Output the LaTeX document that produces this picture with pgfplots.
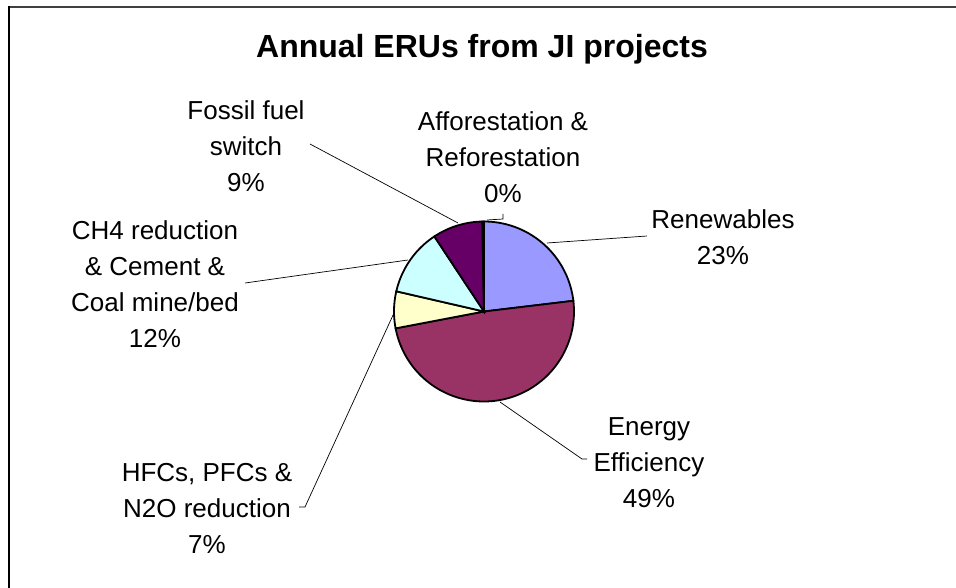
\documentclass[border=0pt]{standalone}
\usepackage{fontspec}
\setmainfont{Liberation Sans}
\usepackage{pgfplots}
\pgfplotsset{compat=1.18}
\definecolor{cRen}{HTML}{9999FF}
\definecolor{cEE}{HTML}{993366}
\definecolor{cHFC}{HTML}{FFFFCC}
\definecolor{cCH}{HTML}{CCFFFF}
\definecolor{cFos}{HTML}{660066}
\definecolor{cAff}{HTML}{FF8080}
% shares in percent
\def\vRen{23.1}
\def\vEE{48.9}
\def\vHFC{6.6}
\def\vCH{12.1}
\def\vFos{9.0}
\def\vAff{0.3}
\pgfmathsetmacro\aA{90}
\pgfmathsetmacro\aB{\aA-3.6*\vRen}
\pgfmathsetmacro\aC{\aB-3.6*\vEE}
\pgfmathsetmacro\aD{\aC-3.6*\vHFC}
\pgfmathsetmacro\aE{\aD-3.6*\vCH}
\pgfmathsetmacro\aF{\aE-3.6*\vFos}
\pgfmathsetmacro\aG{\aF-3.6*\vAff}
\begin{document}
\begin{tikzpicture}
\begin{axis}[scale only axis, width=956pt, height=588pt,
  xmin=0, xmax=956, ymin=0, ymax=588, y dir=reverse,
  hide axis, clip=false]
\addplot[fill=cRen, draw=black, line width=1.8pt, domain=\aB:\aA, samples=60, variable=\t] ({484+90*cos(t)},{311.5-90*sin(t)}) -- (axis cs:484,311.5) -- cycle;
\addplot[fill=cEE, draw=black, line width=1.8pt, domain=\aC:\aB, samples=100, variable=\t] ({484+90*cos(t)},{311.5-90*sin(t)}) -- (axis cs:484,311.5) -- cycle;
\addplot[fill=cHFC, draw=black, line width=1.8pt, domain=\aD:\aC, samples=20, variable=\t] ({484+90*cos(t)},{311.5-90*sin(t)}) -- (axis cs:484,311.5) -- cycle;
\addplot[fill=cCH, draw=black, line width=1.8pt, domain=\aE:\aD, samples=30, variable=\t] ({484+90*cos(t)},{311.5-90*sin(t)}) -- (axis cs:484,311.5) -- cycle;
\addplot[fill=cFos, draw=black, line width=1.8pt, domain=\aF:\aE, samples=30, variable=\t] ({484+90*cos(t)},{311.5-90*sin(t)}) -- (axis cs:484,311.5) -- cycle;
\addplot[fill=cAff, draw=black, line width=1.8pt, domain=\aG:\aF, samples=3, variable=\t] ({484+90*cos(t)},{311.5-90*sin(t)}) -- (axis cs:484,311.5) -- cycle;
% frame (top and left edges)
\draw[line width=2.2pt, black!75] (axis cs:8,7) -- (axis cs:956,7);
\draw[line width=1.6pt, black] (axis cs:9,6) -- (axis cs:9,588);
% title
\node[font=\fontsize{32}{38}\selectfont\bfseries] at (axis cs:482,49) {Annual ERUs from JI projects};
% leader lines
\draw[line width=0.7pt] (axis cs:647,236) -- (axis cs:547,243);
\draw[line width=0.7pt] (axis cs:587,459) -- (axis cs:582,459) -- (axis cs:500,402);
\draw[line width=0.7pt] (axis cs:299,507) -- (axis cs:305,507) -- (axis cs:394,313);
\draw[line width=0.7pt] (axis cs:245,283) -- (axis cs:408,260);
\draw[line width=0.7pt] (axis cs:310,144) -- (axis cs:458,223);
\draw[line width=0.7pt] (axis cs:503,214) -- (axis cs:503,219) -- (axis cs:487,220);
% labels
\begin{scope}[every node/.style={align=center, font=\fontsize{26}{36}\selectfont, inner sep=0pt}]
\node at (axis cs:723,237) {Renewables\\23\%};
\node at (axis cs:649,463) {Energy\\Efficiency\\49\%};
\node at (axis cs:207,508) {HFCs, PFCs \&\\N2O reduction\\7\%};
\node at (axis cs:155,284) {CH4 reduction\\\& Cement \&\\Coal mine/bed\\12\%};
\node at (axis cs:246,146) {Fossil fuel\\switch\\9\%};
\node at (axis cs:503,157) {Afforestation \&\\Reforestation\\0\%};
\end{scope}
\end{axis}
\pgfresetboundingbox
\path (current axis.south west) rectangle (current axis.north east);
\end{tikzpicture}
\end{document}
